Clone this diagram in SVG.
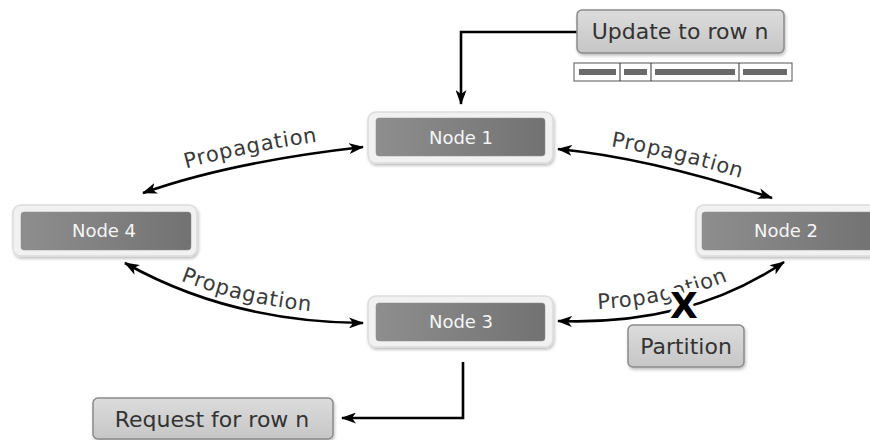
<svg xmlns="http://www.w3.org/2000/svg" width="870" height="440" viewBox="0 0 870 440">
<style>
.outer{fill:#f1f1f1;stroke:#dcdcdc;stroke-width:1.5}
.inner{fill:url(#ng);stroke:#8f8f8f;stroke-width:0.5}
.ntxt{font-family:"DejaVu Sans",Verdana,sans-serif;font-size:18px;fill:#f6f6f6;text-anchor:middle}
.lbox{fill:url(#lg);stroke:#8a8a8a;stroke-width:1.5}
.ltxt{font-family:"DejaVu Sans",Verdana,sans-serif;font-size:22px;fill:#333;text-anchor:middle}
.prop{font-family:"DejaVu Sans",Verdana,sans-serif;font-size:21px;fill:#3a3a3a;letter-spacing:0.8px;text-anchor:middle}
.con{fill:none;stroke:#000;stroke-width:2.6}
.arr{marker-end:url(#ah)}
.both{marker-start:url(#ah);marker-end:url(#ah)}
</style>
<defs>
<linearGradient id="ng" x1="0" y1="0" x2="1" y2="0">
<stop offset="0" stop-color="#8e8e8e"/>
<stop offset="1" stop-color="#727272"/>
</linearGradient>
<linearGradient id="lg" x1="0" y1="0" x2="0" y2="1">
<stop offset="0" stop-color="#dcdcdc"/>
<stop offset="1" stop-color="#c6c6c6"/>
</linearGradient>
<filter id="sh" x="-10%" y="-20%" width="120%" height="150%">
<feDropShadow dx="1" dy="2" stdDeviation="1.5" flood-color="#000" flood-opacity="0.25"/>
</filter>
<marker id="ah" viewBox="0 0 15 11" refX="14" refY="5.5" markerWidth="15" markerHeight="11" markerUnits="userSpaceOnUse" orient="auto-start-reverse">
<path d="M0,0 L15,5.5 L0,11 L4,5.5 Z" fill="#000"/>
</marker>
<path id="t1" d="M143,182 Q230,151 363,136"/>
<path id="t2" d="M558,139 Q650,148 772,188"/>
<path id="t3" d="M125,254 Q230,313 363,314"/>
<path id="t4" d="M558,309 Q690,314 784,250"/>
</defs>

<g id="connectors">
<path class="con arr" d="M577,32 H461 V104"/>
<path class="con arr" d="M463,362 V418 H342"/>
<path class="con both" d="M143,193 Q230,162 363,147"/>
<path class="con both" d="M558,149 Q650,158 772,198"/>
<path class="con both" d="M125,263 Q230,322 363,323"/>
<path class="con both" d="M558,321 Q690,326 784,262"/>
</g>

<g id="labels">
<text class="prop"><textPath href="#t1" startOffset="50%">Propagation</textPath></text>
<text class="prop"><textPath href="#t2" startOffset="55%">Propagation</textPath></text>
<text class="prop"><textPath href="#t3" startOffset="52%">Propagation</textPath></text>
<text class="prop"><textPath href="#t4" startOffset="45%">Propagation</textPath></text>
</g>

<g id="node1">
<rect class="outer" x="368" y="112" width="185" height="51" rx="8" filter="url(#sh)"/>
<rect class="inner" x="376" y="118" width="169" height="38" rx="3"/>
<text class="ntxt" x="461" y="144">Node 1</text>
</g>
<g id="node4">
<rect class="outer" x="13" y="205" width="184" height="51" rx="8" filter="url(#sh)"/>
<rect class="inner" x="21" y="212" width="170" height="38" rx="3"/>
<text class="ntxt" x="104" y="237">Node 4</text>
</g>
<g id="node2">
<rect class="outer" x="696" y="205" width="190" height="51" rx="8" filter="url(#sh)"/>
<rect class="inner" x="702" y="212" width="175" height="38" rx="3"/>
<text class="ntxt" x="786" y="237">Node 2</text>
</g>
<g id="node3">
<rect class="outer" x="368" y="296" width="185" height="51" rx="8" filter="url(#sh)"/>
<rect class="inner" x="376" y="303" width="169" height="38" rx="3"/>
<text class="ntxt" x="461" y="328">Node 3</text>
</g>

<g id="update">
<rect class="lbox" x="577" y="10" width="207" height="43" rx="5" filter="url(#sh)"/>
<text class="ltxt" x="680" y="39">Update to row n</text>
</g>
<g id="row">
<rect x="574" y="63" width="218" height="18" fill="#fff" stroke="#555" stroke-width="1"/>
<line x1="620" y1="63" x2="620" y2="81" stroke="#333" stroke-width="1"/>
<line x1="651" y1="63" x2="651" y2="81" stroke="#333" stroke-width="1"/>
<line x1="739" y1="63" x2="739" y2="81" stroke="#333" stroke-width="1"/>
<rect x="579" y="69" width="37" height="6" fill="#6a6a6a"/>
<rect x="624" y="69" width="23" height="6" fill="#6a6a6a"/>
<rect x="655" y="69" width="80" height="6" fill="#6a6a6a"/>
<rect x="743" y="69" width="44" height="6" fill="#6a6a6a"/>
</g>
<g id="request">
<rect class="lbox" x="93" y="398" width="240" height="41" rx="5" filter="url(#sh)"/>
<text class="ltxt" x="212" y="427">Request for row n</text>
</g>
<g id="partition">
<text x="684" y="318" font-family="'DejaVu Sans',Verdana,sans-serif" font-weight="bold" font-size="36" fill="#000" stroke="#fff" stroke-width="8" paint-order="stroke" text-anchor="middle">X</text>
<rect class="lbox" x="628" y="325" width="116" height="42" rx="5" filter="url(#sh)"/>
<text class="ltxt" x="686" y="354">Partition</text>
</g>
</svg>
